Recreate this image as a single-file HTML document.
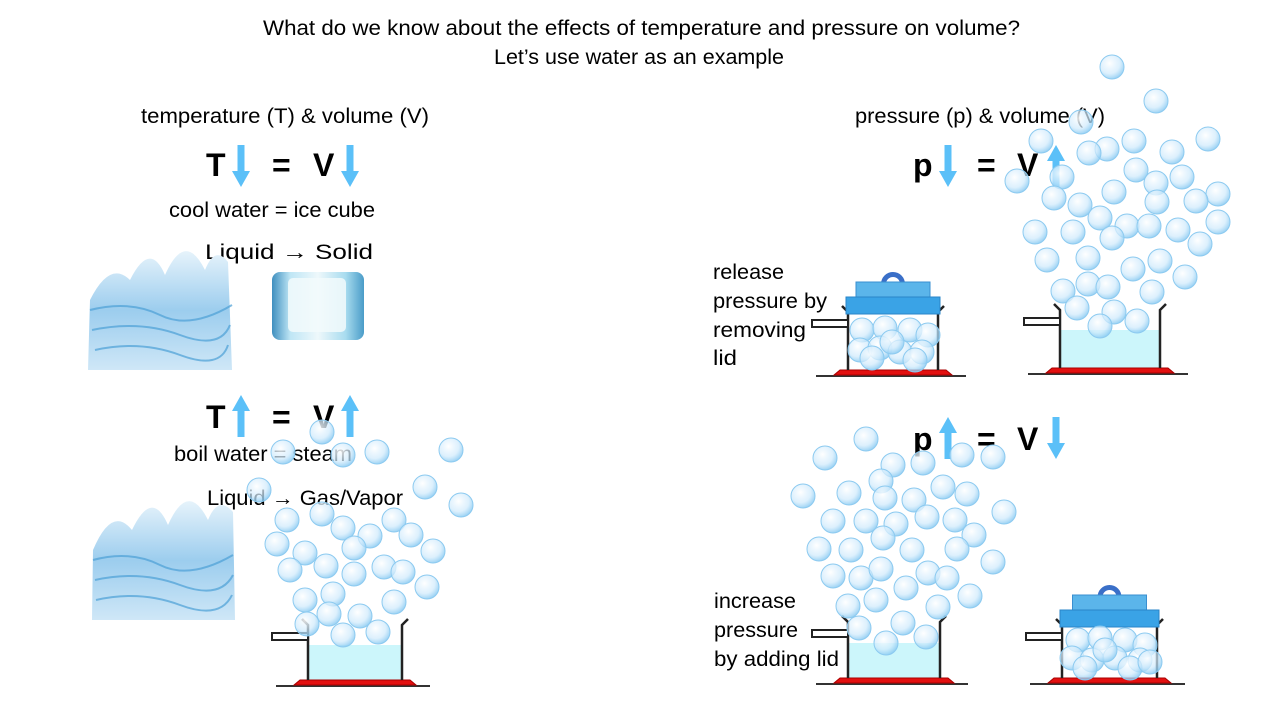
<!DOCTYPE html>
<html><head><meta charset="utf-8"><style>
html,body{margin:0;padding:0;background:#fff;}
svg{display:block;}
text{font-family:"Liberation Sans","DejaVu Sans",sans-serif;fill:#000;}
</style></head><body>
<svg id="s" width="1280" height="720" viewBox="0 0 1280 720">
<defs>
<radialGradient id="bub" cx="0.4" cy="0.35" r="0.7">
<stop offset="0" stop-color="#ffffff" stop-opacity="0.85"/>
<stop offset="0.6" stop-color="#cfeafc" stop-opacity="0.7"/>
<stop offset="1" stop-color="#7cc4f0" stop-opacity="0.85"/>
</radialGradient>
<linearGradient id="splash" x1="0" y1="0" x2="0" y2="1">
<stop offset="0" stop-color="#e6f3fb"/>
<stop offset="0.5" stop-color="#9ccdee"/>
<stop offset="1" stop-color="#cfe7f7"/>
</linearGradient>
<linearGradient id="ice" x1="0" y1="0" x2="1" y2="0">
<stop offset="0" stop-color="#3f8fbf"/>
<stop offset="0.2" stop-color="#bfe6f5"/>
<stop offset="0.5" stop-color="#eef8fb"/>
<stop offset="0.8" stop-color="#a8dcef"/>
<stop offset="1" stop-color="#4a9cc8"/>
</linearGradient>
</defs>

<text x="263" y="35" font-size="21" textLength="757" lengthAdjust="spacingAndGlyphs">What do we know about the effects of temperature and pressure on volume?</text>
<text x="494" y="64" font-size="21" textLength="290" lengthAdjust="spacingAndGlyphs">Let’s use water as an example</text>

<text x="141" y="123" font-size="21" textLength="288" lengthAdjust="spacingAndGlyphs">temperature (T) &amp; volume (V)</text>
<text x="855" y="123" font-size="21" textLength="250" lengthAdjust="spacingAndGlyphs">pressure (p) &amp; volume (V)</text>

<g font-weight="bold" font-size="32">
<text x="206" y="176">T</text><text x="272" y="176">=</text><text x="313" y="176">V</text>
</g>
<g font-weight="bold" font-size="32">
<text x="206" y="428">T</text><text x="272" y="428">=</text><text x="313" y="428">V</text>
</g>
<g font-weight="bold" font-size="32">
<text x="913" y="176">p</text><text x="977" y="176">=</text><text x="1017" y="176">V</text>
</g>
<g font-weight="bold" font-size="32">
<text x="913" y="450">p</text><text x="977" y="450">=</text><text x="1017" y="450">V</text>
</g>

<text x="169" y="217" font-size="21" textLength="206" lengthAdjust="spacingAndGlyphs">cool water = ice cube</text>
<text x="205" y="259" font-size="21" textLength="168" lengthAdjust="spacingAndGlyphs">Liquid → Solid</text>
<text x="174" y="461" font-size="21" textLength="178" lengthAdjust="spacingAndGlyphs">boil water = steam</text>
<text x="207" y="505" font-size="21" textLength="196" lengthAdjust="spacingAndGlyphs">Liquid → Gas/Vapor</text>

<g font-size="21">
<text x="713" y="279" textLength="71" lengthAdjust="spacingAndGlyphs">release</text>
<text x="713" y="308" textLength="114" lengthAdjust="spacingAndGlyphs">pressure by</text>
<text x="713" y="337" textLength="93" lengthAdjust="spacingAndGlyphs">removing</text>
<text x="713" y="365" textLength="24" lengthAdjust="spacingAndGlyphs">lid</text>
</g>
<g font-size="21">
<text x="714" y="608" textLength="82" lengthAdjust="spacingAndGlyphs">increase</text>
<text x="714" y="637" textLength="84" lengthAdjust="spacingAndGlyphs">pressure</text>
<text x="714" y="666" textLength="125" lengthAdjust="spacingAndGlyphs">by adding lid</text>
</g>

<g>
<path d="M90,300 Q110,260 130,280 Q150,240 165,275 Q185,230 205,270 Q215,245 228,262 L232,370 L88,370 Z" fill="url(#splash)"/>
<path d="M90,310 Q130,300 160,315 T232,305 M92,330 Q140,320 180,335 T230,325 M95,350 Q140,340 180,355 T228,345" stroke="#4c9fd6" stroke-width="2" fill="none" opacity="0.7"/>
</g>
<g>
<path d="M93,550 Q112,505 132,530 Q152,488 168,525 Q188,480 208,520 Q218,495 233,512 L235,620 L92,620 Z" fill="url(#splash)"/>
<path d="M93,560 Q130,550 160,565 T233,555 M95,580 Q140,570 180,585 T233,575 M96,600 Q140,590 180,605 T232,595" stroke="#4c9fd6" stroke-width="2" fill="none" opacity="0.7"/>
</g>
<g>
<rect x="272" y="272" width="92" height="68" rx="8" fill="url(#ice)"/>
<rect x="288" y="278" width="58" height="54" rx="5" fill="#f2fafc" opacity="0.85"/>
</g>

<g id="arrows"></g>
<g id="pots"></g>
<g id="bubbles"></g>
</svg>
<script>
const NS='http://www.w3.org/2000/svg';
function mk(tag,attrs,parent){const e=document.createElementNS(NS,tag);for(const k in attrs)e.setAttribute(k,attrs[k]);parent.appendChild(e);return e;}
const arrowsG=document.getElementById('arrows');
const potsG=document.getElementById('pots');
const bubG=document.getElementById('bubbles');

const arrowX=[241,350,241,350,948,1056,948,1056];
const arrowTop=[145,145,395,395,145,145,417,417];
const arrowDir=['down','down','up','up','down','up','up','down'];
for(let i=0;i<arrowX.length;i++){
  const x=arrowX[i],t=arrowTop[i],b=t+42,d=arrowDir[i];
  let p;
  if(d==='down') p=`M${x-3.5},${t} L${x+3.5},${t} L${x+3.5},${b-16} L${x+9},${b-16} L${x},${b} L${x-9},${b-16} L${x-3.5},${b-16} Z`;
  else p=`M${x-3.5},${b} L${x+3.5},${b} L${x+3.5},${t+16} L${x+9},${t+16} L${x},${t} L${x-9},${t+16} L${x-3.5},${t+16} Z`;
  const a=mk('path',{d:p,fill:'#5bc0f8'},arrowsG);
  
  
}

const pots=[
 {l:308,r:402,t:625,b:680,lid:false,water:645},
 {l:848,r:938,t:312,b:370,lid:true,water:null},
 {l:1060,r:1160,t:310,b:368,lid:false,water:330},
 {l:848,r:940,t:622,b:678,lid:false,water:643},
 {l:1062,r:1157,t:625,b:678,lid:true,water:null}
];
pots.forEach((p,i)=>{
  const g=mk('g',{},potsG);
  
  
  if(p.water!==null) mk('rect',{x:p.l,y:p.water,width:p.r-p.l,height:p.b-p.water,fill:'#ccf6fb'},g);
  mk('line',{x1:p.l-32,y1:p.b+6,x2:p.r+28,y2:p.b+6,stroke:'#333','stroke-width':2},g);
  mk('path',{d:`M${p.l-14},${p.b+5} L${p.l-8},${p.b} L${p.r+8},${p.b} L${p.r+14},${p.b+5} Z`,fill:'#e31010',stroke:'#a00','stroke-width':1},g);
  mk('path',{d:`M${p.l-6},${p.t-6} L${p.l},${p.t} L${p.l},${p.b} M${p.r+6},${p.t-6} L${p.r},${p.t} L${p.r},${p.b}`,stroke:'#222','stroke-width':2.5,fill:'none'},g);
  mk('rect',{x:p.l-36,y:p.t+8,width:36,height:7,fill:'#fff',stroke:'#222','stroke-width':2},g);
  if(p.lid){
    const cx=(p.l+p.r)/2;
    mk('path',{d:`M${cx-12},${p.t-28} A12,12 0 0 1 ${cx+12},${p.t-28} L${cx+7},${p.t-28} A7,7 0 0 0 ${cx-7},${p.t-28} Z`,fill:'#3a6fc8'},g);
    mk('rect',{x:cx-37,y:p.t-30,width:74,height:18,fill:'#5bb5ea',stroke:'#3a8fd0','stroke-width':1},g);
    mk('rect',{x:p.l-2,y:p.t-15,width:p.r-p.l+4,height:17,fill:'#3aa3e6',stroke:'#2a85c8','stroke-width':1},g);
  }
});

const bubbles=[
 [322,432],[377,452],[451,450],[343,455],[283,452],[259,490],[425,487],[461,505],[287,520],[322,514],[343,528],[370,536],[394,520],[411,535],[277,544],[305,553],[354,548],[433,551],[290,570],[326,566],[354,574],[384,567],[403,572],[427,587],[305,600],[333,594],[360,616],[394,602],[329,614],[343,635],[378,632],[307,624],
 [1112,67],[1156,101],[1081,122],[1041,141],[1107,149],[1134,141],[1208,139],[1062,177],[1017,181],[1089,153],[1136,170],[1172,152],[1156,183],[1182,177],[1218,194],[1196,201],[1054,198],[1080,205],[1114,192],[1157,202],[1218,222],[1035,232],[1073,232],[1100,218],[1127,226],[1112,238],[1149,226],[1178,230],[1200,244],[1047,260],[1088,258],[1133,269],[1160,261],[1185,277],[1063,291],[1088,284],[1108,287],[1152,292],[1077,308],[1114,312],[1137,321],[1100,326],
 [866,439],[825,458],[893,465],[923,463],[962,455],[993,457],[881,481],[803,496],[849,493],[885,498],[914,500],[943,487],[967,494],[833,521],[866,521],[896,524],[927,517],[955,520],[1004,512],[883,538],[912,550],[974,535],[819,549],[851,550],[957,549],[993,562],[833,576],[861,578],[881,569],[906,588],[928,573],[947,578],[970,596],[848,606],[876,600],[938,607],[859,628],[903,623],[926,637],[886,643],
 [862,330],[885,328],[910,330],[928,335],[860,350],[880,348],[900,352],[922,352],[872,358],[915,360],[892,342],
 [1078,640],[1100,638],[1125,640],[1145,645],[1072,658],[1092,660],[1115,658],[1140,660],[1085,668],[1130,668],[1105,650],[1150,662]
];
bubbles.forEach(([x,y])=>{
  const c=mk('circle',{cx:x,cy:y,r:12,fill:'url(#bub)',stroke:'#8ccaf0','stroke-width':1},bubG);
  
  
});
</script>
</body></html>
